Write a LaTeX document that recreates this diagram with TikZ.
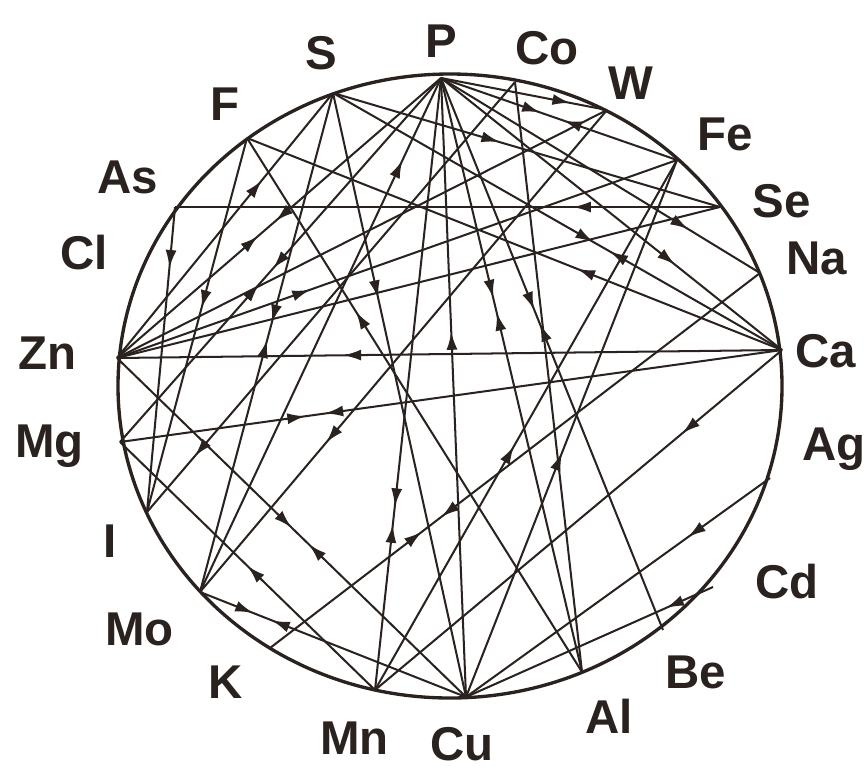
\documentclass[tikz,border=0pt]{standalone}
\usepackage{fontspec}
\setmainfont{Liberation Sans}
\usetikzlibrary{arrows.meta, decorations.markings}

\definecolor{encre}{RGB}{42,34,31}
\tikzset{
  corde/.style={encre, line width=1.15pt},
  vers/.style={postaction={decorate, decoration={markings,
      mark=at position #1 with {\arrow{Latex[length=0.36cm,width=0.22cm]}}}}},
  contre/.style={postaction={decorate, decoration={markings,
      mark=at position #1 with {\arrowreversed{Latex[length=0.36cm,width=0.22cm]}}}}},
  elem/.style={anchor=base west, inner sep=0pt, text=encre,
      font=\fontsize{27}{29}\selectfont\bfseries},
}

\begin{document}
\begin{tikzpicture}[x=0.02cm, y=-0.02cm]
  \useasboundingbox (0,0) rectangle (868,768);

  % Cercle
  \draw[encre, line width=1.9pt] (450,386) ellipse [x radius=332, y radius=312];

  % Points sur le cercle
  \coordinate (P)  at (441,78);
  \coordinate (Co) at (515,82);
  \coordinate (W)  at (607,110);
  \coordinate (Fe) at (677,160);
  \coordinate (Se) at (720,207);
  \coordinate (Na) at (760,273);
  \coordinate (Ca) at (782,350);
  \coordinate (Ag) at (770,478);
  \coordinate (Cd) at (713,587);
  \coordinate (Be) at (663,630);
  \coordinate (Al) at (582,672);
  \coordinate (Cu) at (466,697);
  \coordinate (Mn) at (375,690);
  \coordinate (K)  at (270,648);
  \coordinate (Mo) at (200,592);
  \coordinate (I)  at (147,512);
  \coordinate (Mg) at (120,442);
  \coordinate (Zn) at (117,358);
  \coordinate (As) at (175,207);
  \coordinate (F)  at (247,138);
  \coordinate (S)  at (333,93);

  % Noms des éléments
  \node[elem] (lP)  at (425,57)  {P};
  \node[elem] (lS)  at (305,69)  {S};
  \node[elem] (lCo) at (515,64)  {Co};
  \node[elem] (lW)  at (608,99)  {W};
  \node[elem] (lF)  at (210,120) {F};
  \node[elem] (lFe) at (697,150) {Fe};
  \node[elem] (lAs) at (97,193)  {As};
  \node[elem] (lSe) at (752,217) {Se};
  \node[elem] (lCl) at (60,269)  {Cl};
  \node[elem] (lNa) at (786,274) {Na};
  \node[elem] (lZn) at (18,369)  {Zn};
  \node[elem] (lCa) at (795,367) {Ca};
  \node[elem] (lMg) at (15,457)  {Mg};
  \node[elem] (lAg) at (802,460) {Ag};
  \node[elem] (lI)  at (103,557) {I};
  \node[elem] (lCd) at (755,598) {Cd};
  \node[elem] (lMo) at (105,645) {Mo};
  \node[elem] (lBe) at (665,688) {Be};
  \node[elem] (lK)  at (208,698) {K};
  \node[elem] (lAl) at (585,733) {Al};
  \node[elem] (lMn) at (320,754) {Mn};
  \node[elem] (lCu) at (430,760) {Cu};

  % Liaisons partant du haut
  \draw[corde, vers=0.78] (P) -- (W);
  \draw[corde, vers=0.42, contre=0.52] (P) -- (Fe);
  \draw[corde, vers=0.775] (P) -- (Na);
  \draw[corde, vers=0.686] (P) -- (Ca);
  \draw[corde, vers=0.37, contre=0.395] (P) -- (Al);
  \draw[corde, vers=0.42, contre=0.445] (P) -- (Be);
  \draw[corde, vers=0.70, contre=0.73] (P) -- (Mn);
  \draw[corde, vers=0.59] (Cu) -- (P);
  \draw[corde, vers=0.84] (Mo) -- (P);
  \draw[corde, vers=0.435, contre=0.49] (Zn) -- (P);
  \draw[corde, vers=0.433, contre=0.477] (Mg) -- (P);
  \draw[corde, vers=0.43] (S) -- (Se);
  \draw[corde, vers=0.58, contre=0.617] (S) -- (Ca);
  \draw[corde, vers=0.34] (S) -- (Cu);
  \draw[corde, vers=0.46, contre=0.495] (S) -- (Mo);
  \draw[corde, vers=0.67] (Zn) -- (S);
  \draw[corde, vers=0.87] (Co) -- (I);
  \draw[corde] (Co) -- (Al);
  \draw[corde, vers=0.69] (W) -- (Mo);
  \draw[corde, vers=0.455] (F) -- (I);
  \draw[corde, vers=0.383] (Ca) -- (F);
  \draw[corde, vers=0.675] (Al) -- (F);
  \draw[corde, vers=0.2] (As) -- (I);
  \draw[corde, contre=0.73] (As) -- (Se);

  % Liaisons du milieu
  \draw[corde, vers=0.66] (Ca) -- (Zn);
  \draw[corde, vers=0.28, contre=0.31] (Mg) -- (Ca);
  \draw[corde, vers=0.345] (Zn) -- (Fe);
  \draw[corde] (Zn) -- (W);
  \draw[corde] (Zn) -- (Se);

  % Liaisons du bas
  \draw[corde, vers=0.5, contre=0.55] (Zn) -- (Cu);
  \draw[corde, vers=0.5] (Mn) -- (Mg);
  \draw[corde, vers=0.2, contre=0.27] (Mo) -- (Cu);
  \draw[corde, vers=0.31, contre=0.35] (K) -- (Na);
  \draw[corde, vers=0.46] (Mn) -- (Fe);
  \draw[corde, vers=0.455] (Cu) -- (Fe);
  \draw[corde, vers=0.245] (Ca) -- (Mn);
  \draw[corde, vers=0.27] (Ag) -- (Cu);
  \draw[corde, vers=0.19] (Cd) -- (Cu);
\end{tikzpicture}
\end{document}
